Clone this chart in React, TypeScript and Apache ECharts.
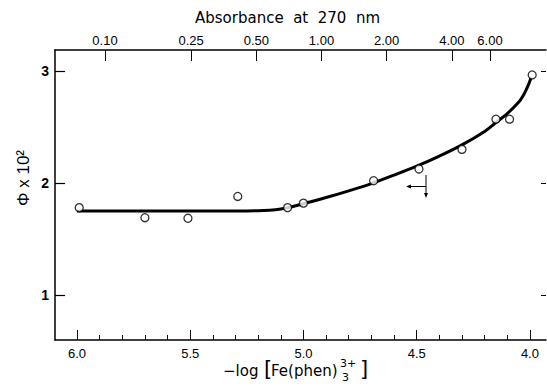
import React, { useEffect, useRef } from "react";
import * as echarts from "echarts";

// Measured points: x = -log[Fe(phen)3 3+], y = Φ x 10^2
const pointX = [5.99, 5.7, 5.51, 5.29, 5.07, 5.0, 4.69, 4.49, 4.3, 4.15, 4.09, 3.99];
const pointY = [1.78, 1.69, 1.685, 1.88, 1.78, 1.82, 2.02, 2.125, 2.3, 2.57, 2.57, 2.965];

// Fitted curve
const curveX = [6.0, 5.8, 5.6, 5.4, 5.3, 5.2, 5.15, 5.1, 5.05, 5.0, 4.9, 4.8, 4.7, 4.6, 4.5, 4.4, 4.3, 4.2, 4.15, 4.1, 4.05, 4.03, 4.01, 3.995];
const curveY = [1.75, 1.75, 1.75, 1.75, 1.75, 1.752, 1.757, 1.768, 1.788, 1.815, 1.87, 1.93, 1.995, 2.07, 2.15, 2.24, 2.34, 2.46, 2.54, 2.62, 2.72, 2.78, 2.86, 2.94];

// Axis ticks
const bottomLabels = [6.0, 5.5, 5.0, 4.5, 4.0];
const bottomMinor = [6.0, 5.9, 5.8, 5.7, 5.6, 5.5, 5.4, 5.3, 5.2, 5.1, 5.0, 4.9, 4.8, 4.7, 4.6, 4.5, 4.4, 4.3, 4.2, 4.1, 4.0];
const topAbsorbance = [0.1, 0.25, 0.5, 1.0, 2.0, 4.0, 6.0];
const yTicks = [1, 2, 3];

const FONT = "Liberation Sans";
const TFONT = "DejaVu Sans";

export default function App() {
  const ref = useRef<HTMLDivElement>(null);
  useEffect(() => {
    if (!ref.current) return;
    const chart = echarts.init(ref.current, null, { renderer: "svg" });
    const topLog = topAbsorbance.map((a) => Math.log10(a));
    chart.setOption({
      animation: false,
      backgroundColor: "#ffffff",
      grid: { left: 55, right: 1, top: 50, bottom: 50 },
      xAxis: [
        {
          type: "value",
          position: "bottom",
          min: 3.929,
          max: 6.097,
          inverse: true,
          axisLine: { show: true, onZero: false, lineStyle: { color: "#000", width: 1.5 } },
          axisTick: { show: true, inside: true, length: 10, customValues: bottomLabels, lineStyle: { color: "#000", width: 1 } },
          axisLabel: {
            show: true,
            customValues: bottomLabels,
            margin: 7,
            color: "#000",
            fontFamily: FONT,
            fontSize: 13,
            formatter: (v: number) => v.toFixed(1),
          },
          splitLine: { show: false },
        },
        {
          type: "value",
          position: "bottom",
          min: 3.929,
          max: 6.097,
          inverse: true,
          axisLine: { show: false, onZero: false },
          axisTick: { show: true, inside: true, length: 5, customValues: bottomMinor, lineStyle: { color: "#000", width: 1 } },
          axisLabel: { show: false },
          splitLine: { show: false },
        },
        {
          type: "value",
          position: "top",
          min: -1.231,
          max: 1.037,
          axisLine: { show: true, onZero: false, lineStyle: { color: "#000", width: 1.5 } },
          axisTick: { show: true, inside: true, length: 11, customValues: topLog, lineStyle: { color: "#000", width: 1 } },
          axisLabel: {
            show: true,
            customValues: topLog,
            margin: 3,
            color: "#000",
            fontFamily: FONT,
            fontSize: 13,
            formatter: (v: number) => Math.pow(10, v).toFixed(2),
          },
          splitLine: { show: false },
        },
      ],
      yAxis: [
        {
          type: "value",
          position: "left",
          min: 0.598,
          max: 3.1875,
          axisLine: { show: true, onZero: false, lineStyle: { color: "#000", width: 1.5 } },
          axisTick: { show: true, inside: true, length: 10, customValues: yTicks, lineStyle: { color: "#000", width: 1.2 } },
          axisLabel: {
            show: true,
            customValues: yTicks,
            margin: 6,
            color: "#000",
            fontFamily: FONT,
            fontSize: 14,
            fontWeight: "bold",
          },
          splitLine: { show: false },
        },
        {
          type: "value",
          position: "right",
          min: 0.598,
          max: 3.1875,
          axisLine: { show: false, onZero: false },
          axisTick: { show: true, inside: true, length: 5, customValues: yTicks, lineStyle: { color: "#000", width: 1 } },
          axisLabel: { show: false },
          splitLine: { show: false },
        },
      ],
      series: [
        {
          type: "line",
          xAxisIndex: 0,
          yAxisIndex: 0,
          data: curveX.map((x, i) => [x, curveY[i]]),
          smooth: 0.4,
          showSymbol: false,
          lineStyle: { color: "#000", width: 3 },
          z: 2,
        },
        {
          type: "scatter",
          xAxisIndex: 0,
          yAxisIndex: 0,
          data: pointX.map((x, i) => [x, pointY[i]]),
          symbol: "circle",
          symbolSize: 8,
          itemStyle: { color: "#fff", borderColor: "#000", borderWidth: 1.3 },
          z: 3,
        },
      ],
      graphic: [
        {
          type: "text",
          left: 195,
          top: 10,
          style: { text: "Absorbance  at  270  nm", fontFamily: TFONT, fontSize: 15, fill: "#000" },
        },
        {
          type: "text",
          x: 23,
          y: 178,
          rotation: Math.PI / 2,
          style: {
            text: "Φ x 10²",
            fontFamily: FONT,
            fontSize: 17,
            fill: "#000",
            align: "center",
            verticalAlign: "middle",
          },
        },
        {
          type: "group",
          left: 223,
          top: 358,
          children: [
            { type: "text", x: 0, y: 5, style: { text: "−log", fontFamily: TFONT, fontSize: 15, fill: "#000" } },
            { type: "text", x: 41, y: 0, style: { text: "[", fontFamily: TFONT, fontSize: 21, fill: "#000" } },
            { type: "text", x: 48, y: 5, style: { text: "Fe(phen)", fontFamily: TFONT, fontSize: 15, fill: "#000" } },
            { type: "text", x: 117, y: 0, style: { text: "3+", fontFamily: TFONT, fontSize: 11, fill: "#000" } },
            { type: "text", x: 119, y: 14, style: { text: "3", fontFamily: TFONT, fontSize: 11, fill: "#000" } },
            { type: "text", x: 137, y: 0, style: { text: "]", fontFamily: TFONT, fontSize: 21, fill: "#000" } },
          ],
        },
        // arrow annotation
        { type: "line", shape: { x1: 408, y1: 186.5, x2: 426, y2: 186.5 }, style: { stroke: "#000", lineWidth: 1 } },
        { type: "polygon", shape: { points: [[406, 186.5], [411, 184.5], [411, 188.5]] }, style: { fill: "#000" } },
        { type: "line", shape: { x1: 426, y1: 175, x2: 426, y2: 195 }, style: { stroke: "#000", lineWidth: 1 } },
        { type: "polygon", shape: { points: [[426, 198], [424, 193], [428, 193]] }, style: { fill: "#000" } },
      ],
    });
    return () => chart.dispose();
  }, []);
  return <div ref={ref} style={{ position: "fixed", left: 0, top: 0, width: 547, height: 390 }} />;
}
